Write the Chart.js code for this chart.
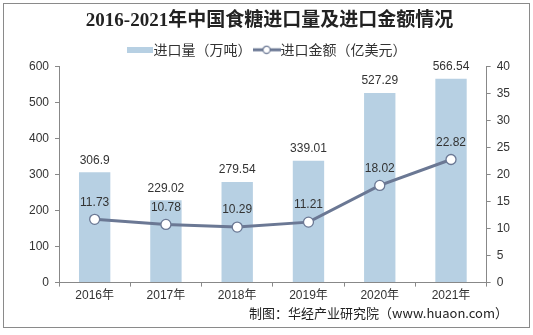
<!DOCTYPE html>
<html>
<head>
<meta charset="utf-8">
<script src="https://cdn.jsdelivr.net/npm/chart.js@4"></script>
<style>
  html, body { margin: 0; padding: 0; background: #fff; }
  #wrap { width: 533px; height: 335px; }
</style>
</head>
<body>
<div id="wrap"><canvas id="chart" width="533" height="335"></canvas></div>
<script>
// chart data
const years = ['2016年', '2017年', '2018年', '2019年', '2020年', '2021年'];
const importVolume = [306.9, 229.02, 279.54, 339.01, 527.29, 566.54];
const importValue = [11.73, 10.78, 10.29, 11.21, 18.02, 22.82];
const volumeLabels = ['306.9', '229.02', '279.54', '339.01', '527.29', '566.54'];
const valueLabels = ['11.73', '10.78', '10.29', '11.21', '18.02', '22.82'];

const BAR_COLOR = '#b7d0e3';
const LINE_COLOR = '#6b7894';
const TEXT_COLOR = '#333';
const FONT = '"Liberation Sans", Arial, "Noto Sans CJK SC", sans-serif';

// legend swatches
function barSwatch() {
  const c = document.createElement('canvas');
  c.width = 26; c.height = 6;
  const g = c.getContext('2d');
  g.fillStyle = BAR_COLOR;
  g.fillRect(0, 0, 26, 6);
  return c;
}
function lineSwatch() {
  const c = document.createElement('canvas');
  c.width = 28; c.height = 10;
  const g = c.getContext('2d');
  g.strokeStyle = LINE_COLOR;
  g.lineWidth = 3;
  g.beginPath(); g.moveTo(0, 5); g.lineTo(28, 5); g.stroke();
  g.fillStyle = '#fff';
  g.lineWidth = 1.2;
  g.beginPath(); g.arc(14, 5, 3.6, 0, Math.PI * 2); g.fill(); g.stroke();
  return c;
}

// frame and value labels
const extras = {
  id: 'extras',
  afterDraw(chart) {
    const ctx = chart.ctx;
    ctx.save();
    ctx.strokeStyle = '#8a8a8a';
    ctx.lineWidth = 1;
    ctx.strokeRect(3.5, 3.5, 526, 324);

    ctx.fillStyle = TEXT_COLOR;
    ctx.font = '12px ' + FONT;
    ctx.textAlign = 'center';
    ctx.textBaseline = 'middle';
    chart.getDatasetMeta(0).data.forEach((bar, i) => {
      ctx.fillText(volumeLabels[i], bar.x, bar.y - 12);
    });
    chart.getDatasetMeta(1).data.forEach((pt, i) => {
      ctx.fillText(valueLabels[i], pt.x, pt.y - 17);
    });

    ctx.font = '13px "Noto Sans CJK SC", sans-serif';
    ctx.textAlign = 'right';
    ctx.fillStyle = '#222';
    ctx.fillText('制图：华经产业研究院（www.huaon.com）', 508, 313);
    ctx.restore();
  }
};

new Chart(document.getElementById('chart'), {
  data: {
    labels: years,
    datasets: [
      {
        type: 'bar',
        label: '进口量（万吨）',
        data: importVolume,
        backgroundColor: BAR_COLOR,
        yAxisID: 'y',
        barPercentage: 0.44,
        categoryPercentage: 1,
        order: 2
      },
      {
        type: 'line',
        label: '进口金额（亿美元）',
        data: importValue,
        borderColor: LINE_COLOR,
        borderWidth: 3,
        pointRadius: 5,
        pointBorderWidth: 1.3,
        pointBackgroundColor: '#fff',
        pointBorderColor: LINE_COLOR,
        yAxisID: 'y1',
        order: 1
      }
    ]
  },
  options: {
    responsive: false,
    animation: false,
    layout: { padding: { left: 23, right: 17, top: 6, bottom: 30 } },
    plugins: {
      title: {
        display: true,
        text: '2016-2021年中国食糖进口量及进口金额情况',
        color: '#222',
        font: { family: '"Liberation Serif", "Noto Sans CJK SC", serif', size: 19, weight: 'bold' },
        padding: { top: 4, bottom: 2 }
      },
      legend: {
        display: true,
        labels: {
          color: TEXT_COLOR,
          font: { family: '"Noto Sans CJK SC", sans-serif', size: 14 },
          usePointStyle: true,
          boxHeight: 8,
          padding: 8,
          generateLabels(chart) {
            return [
              { text: '进口量（万吨）', pointStyle: barSwatch(), datasetIndex: 0, fontColor: TEXT_COLOR, lineWidth: 0 },
              { text: '进口金额（亿美元）', pointStyle: lineSwatch(), datasetIndex: 1, fontColor: TEXT_COLOR, lineWidth: 0 }
            ];
          }
        }
      },
      tooltip: { enabled: false }
    },
    scales: {
      x: {
        grid: { display: true, drawOnChartArea: false, tickLength: 4, color: '#888', offset: true },
        border: { color: '#888' },
        ticks: { color: TEXT_COLOR, font: { family: FONT, size: 12 }, padding: 2 }
      },
      y: {
        position: 'left',
        min: 0, max: 600,
        ticks: { stepSize: 100, color: TEXT_COLOR, font: { family: FONT, size: 12 }, padding: 6 },
        grid: { drawOnChartArea: false, tickLength: 4, color: '#888' },
        border: { color: '#888' }
      },
      y1: {
        position: 'right',
        min: 0, max: 40,
        ticks: { stepSize: 5, color: TEXT_COLOR, font: { family: FONT, size: 12 }, padding: 6 },
        grid: { drawOnChartArea: false, tickLength: 4, color: '#888' },
        border: { color: '#888' }
      }
    }
  },
  plugins: [extras]
});
</script>
</body>
</html>
